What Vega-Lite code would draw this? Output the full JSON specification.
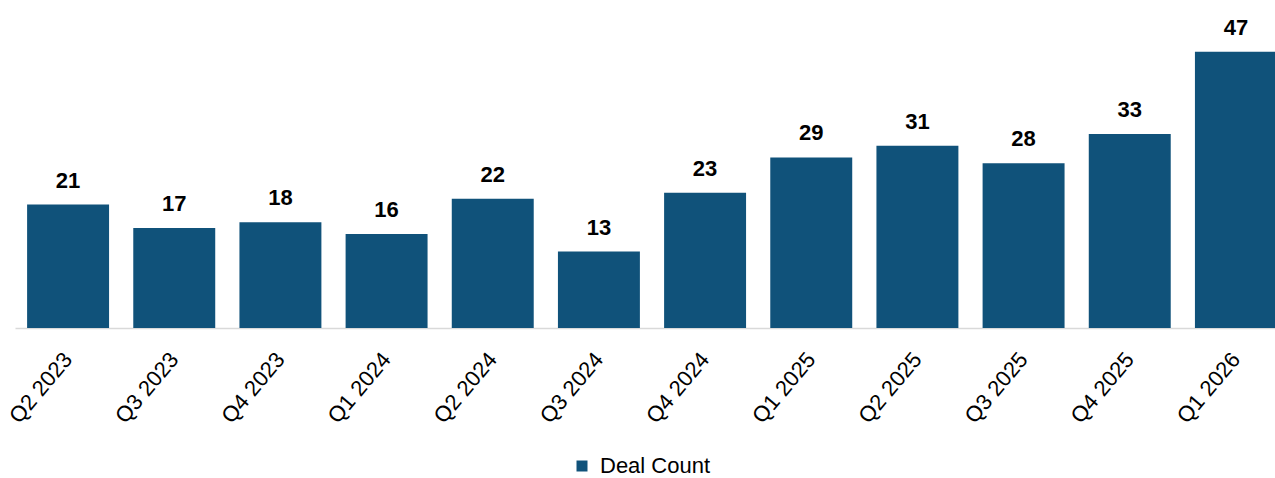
{
  "$schema": "https://vega.github.io/schema/vega-lite/v6.json",
  "autosize": "none",
  "padding": {"left": 15, "top": 34, "right": 0, "bottom": 150},
  "width": 1274,
  "height": 294,
  "background": "white",
  "config": {"view": {"stroke": null}, "font": "Liberation Sans"},
  "data": {"values": [
    {"quarter": "Q2 2023", "count": 21, "series": "Deal Count"},
    {"quarter": "Q3 2023", "count": 17, "series": "Deal Count"},
    {"quarter": "Q4 2023", "count": 18, "series": "Deal Count"},
    {"quarter": "Q1 2024", "count": 16, "series": "Deal Count"},
    {"quarter": "Q2 2024", "count": 22, "series": "Deal Count"},
    {"quarter": "Q3 2024", "count": 13, "series": "Deal Count"},
    {"quarter": "Q4 2024", "count": 23, "series": "Deal Count"},
    {"quarter": "Q1 2025", "count": 29, "series": "Deal Count"},
    {"quarter": "Q2 2025", "count": 31, "series": "Deal Count"},
    {"quarter": "Q3 2025", "count": 28, "series": "Deal Count"},
    {"quarter": "Q4 2025", "count": 33, "series": "Deal Count"},
    {"quarter": "Q1 2026", "count": 47, "series": "Deal Count"}
  ]},
  "encoding": {
    "x": {
      "field": "quarter", "type": "nominal", "sort": null,
      "scale": {"paddingInner": 0.228, "paddingOuter": 0.114},
      "axis": {
        "title": null, "ticks": false, "labelAngle": -50, "labelAlign": "right", "labelBaseline": "middle",
        "labelFontSize": 22, "labelColor": "#000000", "labelPadding": 27,
        "domainColor": "#d9d9d9", "domainWidth": 1.5, "grid": false
      }
    },
    "y": {
      "field": "count", "type": "quantitative",
      "scale": {"domain": [0, 50], "nice": false},
      "axis": null
    }
  },
  "layer": [
    {
      "mark": {"type": "bar"},
      "encoding": {
        "color": {
          "field": "series", "type": "nominal",
          "scale": {"range": ["#10527a"]},
          "legend": {
            "title": null, "orient": "none", "legendX": 556, "legendY": 421,
            "symbolType": "square", "symbolSize": 121, "symbolStrokeWidth": 0,
            "labelFontSize": 22, "labelColor": "#000000", "labelOffset": 7
          }
        }
      }
    },
    {
      "mark": {"type": "text", "fontSize": 22, "fontWeight": "bold", "color": "#000000", "baseline": "alphabetic", "dy": -17},
      "encoding": {"text": {"field": "count", "type": "quantitative"}}
    }
  ]
}
